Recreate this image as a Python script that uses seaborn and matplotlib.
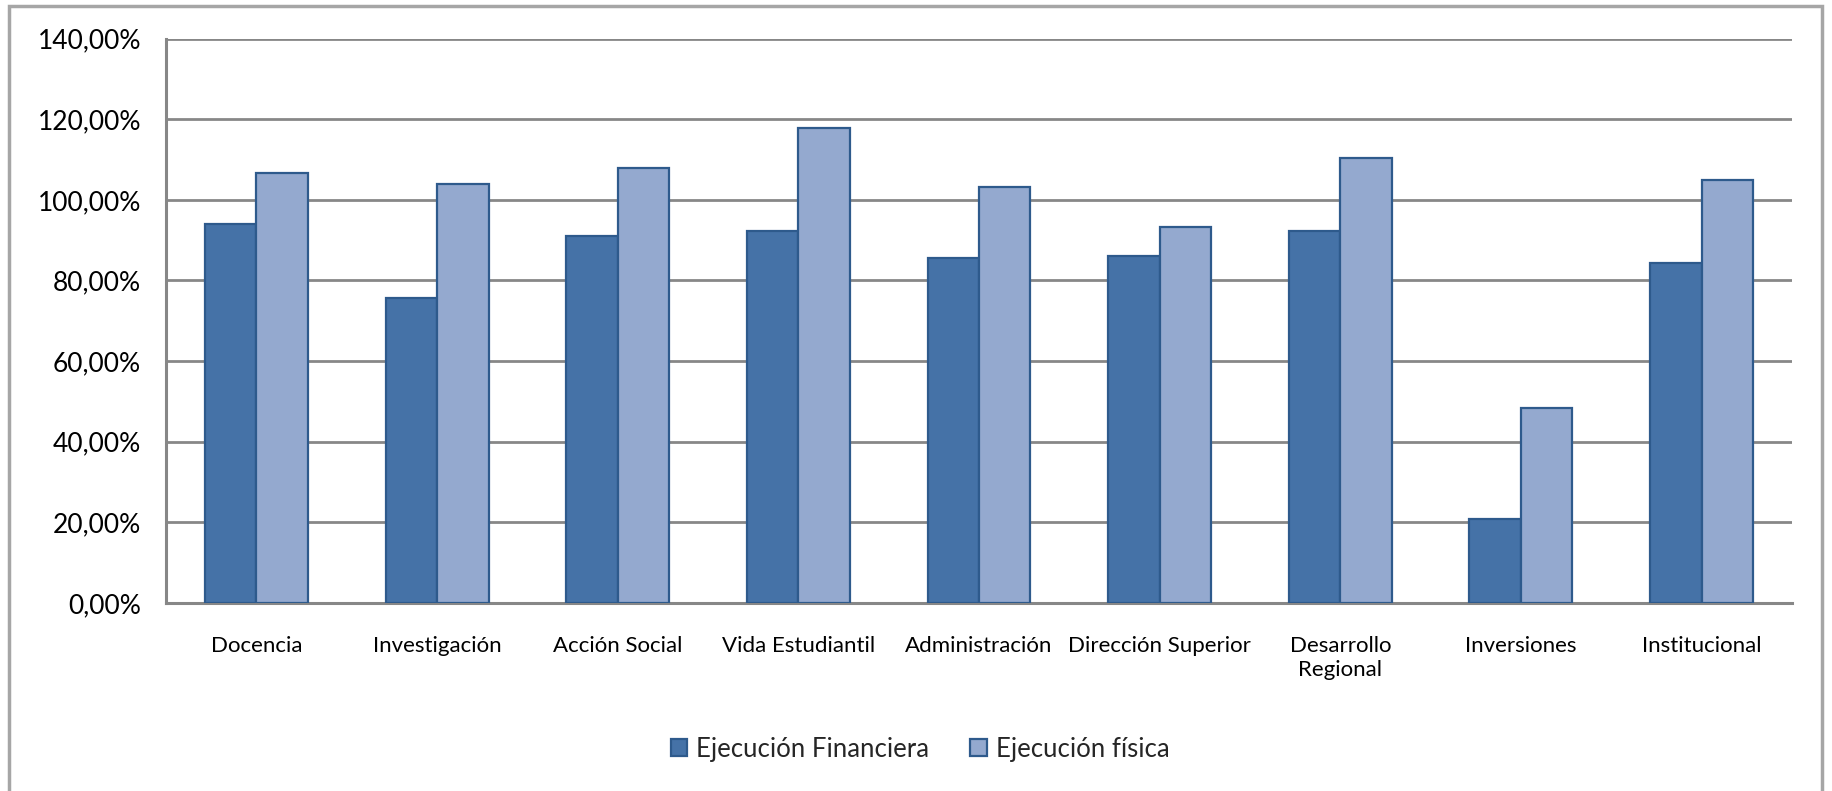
import matplotlib
matplotlib.use("Agg")
import matplotlib.pyplot as plt
import matplotlib.patches as mpatches
from matplotlib.ticker import FuncFormatter, MultipleLocator
import pandas as pd
import seaborn as sns

# ── Data ──────────────────────────────────────────────────────────
categories = [
    "Docencia", "Investigación", "Acción Social", "Vida Estudiantil",
    "Administración", "Dirección Superior", "Desarrollo\nRegional",
    "Inversiones", "Institucional",
]
series_names = ["Ejecución Financiera", "Ejecución física"]
ejec_financiera = [93.9, 75.6, 91.1, 92.2, 85.6, 86.1, 92.2, 20.9, 84.4]
ejec_fisica = [106.7, 103.9, 107.8, 117.8, 103.2, 93.2, 110.4, 48.4, 104.9]

fill_colors = ["#4572A7", "#94A9CF"]
edge_color = "#2E5A8C"
grid_color = "#878787"

df = pd.DataFrame({
    "categoria": categories * 2,
    "serie": [series_names[0]] * len(categories) + [series_names[1]] * len(categories),
    "valor": ejec_financiera + ejec_fisica,
})

# ── Plot ──────────────────────────────────────────────────────────
sns.set_theme(style="white")
plt.rcParams["font.family"] = ["Lato", "DejaVu Sans"]

fig = plt.figure(figsize=(18.33, 7.91), dpi=100)
ax = fig.add_axes([0.0906, 0.2377, 0.887, 0.7135])

sns.barplot(
    data=df, x="categoria", y="valor", hue="serie",
    order=categories, hue_order=series_names,
    palette=fill_colors, width=0.57, saturation=1,
    edgecolor=edge_color, linewidth=1.6, ax=ax, zorder=3,
)

ax.set_ylim(0, 140)
ax.yaxis.set_major_locator(MultipleLocator(20))
ax.yaxis.set_major_formatter(
    FuncFormatter(lambda v, _: f"{v:.2f}%".replace(".", ","))
)
ax.grid(axis="y", color=grid_color, linewidth=2, zorder=0)
ax.set_axisbelow(True)

for side in ["top", "right"]:
    ax.spines[side].set_visible(False)
for side in ["left", "bottom"]:
    ax.spines[side].set_color(grid_color)
    ax.spines[side].set_linewidth(2.2)

ax.tick_params(axis="y", labelsize=19, length=0, pad=18, colors="black")
ax.tick_params(axis="x", labelsize=16, length=0, pad=24, colors="black")
ax.set_xlabel("")
ax.set_ylabel("")

handles, labels = ax.get_legend_handles_labels()
ax.legend_.remove()
fig.legend(
    handles, labels, loc="center", bbox_to_anchor=(0.502, 0.053),
    ncol=2, frameon=False, fontsize=18.5,
    handlelength=0.65, handleheight=0.65, handletextpad=0.35,
    columnspacing=1.6,
)

# outer chart frame (bottom edge falls outside the image)
fig.patches.append(mpatches.Rectangle(
    (0.005, -0.05), 0.989, 1.043, transform=fig.transFigure,
    fill=False, edgecolor="#A6A6A6", linewidth=2.5,
))

fig.savefig("out.png", dpi=100, facecolor="white")
